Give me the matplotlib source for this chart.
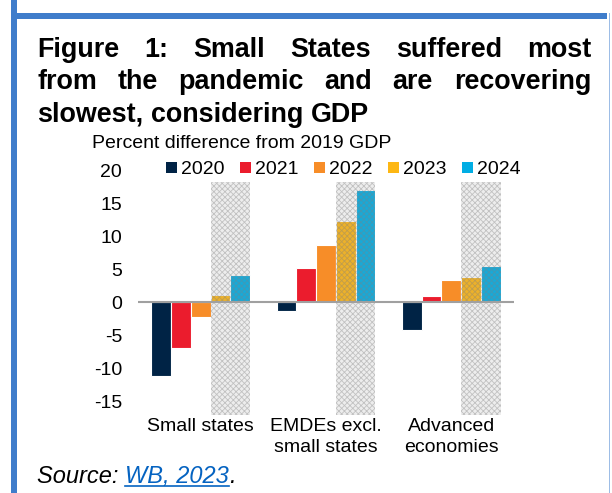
import matplotlib
matplotlib.use("Agg")
import matplotlib.pyplot as plt
import numpy as np
from matplotlib.patches import Rectangle, Patch
from matplotlib.lines import Line2D

plt.rcParams["font.family"] = ["Liberation Sans", "DejaVu Sans"]
plt.rcParams["hatch.linewidth"] = 0.6

# ---- data -------------------------------------------------------------
categories = ["Small states", "EMDEs excl.\nsmall states", "Advanced\neconomies"]
years = ["2020", "2021", "2022", "2023", "2024"]
v2020 = [-11.2, -1.4, -4.3]
v2021 = [-7.0, 5.1, 0.9]
v2022 = [-2.3, 8.7, 3.4]
v2023 = [1.0, 12.3, 3.8]
v2024 = [4.1, 17.0, 5.5]
series = [v2020, v2021, v2022, v2023, v2024]
forecast_years = ["2023", "2024"]
yticks = [20, 15, 10, 5, 0, -5, -10, -15]

colors = ["#002345", "#EB1C2D", "#F78D28", "#FDB714", "#00ADE4"]

title_lines = ["Figure 1: Small States suffered most",
               "from the pandemic and are recovering",
               "slowest, considering GDP"]

# ---- figure -----------------------------------------------------------
W, H = 612, 493
fig = plt.figure(figsize=(W / 100, H / 100), dpi=100)
fig.patch.set_facecolor("white")


def fx(px):
    return px / W


def fy(py):
    return 1 - py / H


# blue frame
frame_col = "#3F7DCB"
fig.patches.append(Rectangle((fx(11), fy(493)), fx(5.5), 1, transform=fig.transFigure,
                             color=frame_col, lw=0))
fig.patches.append(Rectangle((fx(11), fy(18.7)), fx(596), 5.5 / H, transform=fig.transFigure,
                             color=frame_col, lw=0))
fig.patches.append(Rectangle((fx(608.5), fy(493)), fx(1.2), fy(13.2), transform=fig.transFigure,
                             color="#9DBDE6", lw=0))

ax = fig.add_axes([fx(138), fy(414.9), fx(514) - fx(138), (414.9 - 166.7) / H])
ymin, ymax = -17.1, 20.5
shade_top = 18.2

n = len(years)
x = np.arange(len(categories))
pitch = 0.157
for i, (vals, c, yr) in enumerate(zip(series, colors, years)):
    off = (i - (n - 1) / 2) * pitch
    ax.bar(x + off, vals, width=pitch, color=c, edgecolor="white", linewidth=0.8, zorder=2)

# forecast shading over the 2023/2024 bars
i0 = years.index(forecast_years[0])
i1 = years.index(forecast_years[-1])
for xc in x:
    left = xc + (i0 - (n - 1) / 2) * pitch - pitch / 2
    right = xc + (i1 - (n - 1) / 2) * pitch + pitch / 2
    ax.add_patch(Rectangle((left, ymin), right - left, shade_top - ymin,
                           facecolor=(0.6, 0.6, 0.6, 0.17), edgecolor=(0.5, 0.5, 0.5, 0.4),
                           hatch="xxxxxx", linewidth=0, zorder=3))

ax.axhline(0, color="#A0A0A0", lw=1.5, zorder=4)
ax.set_xlim(-0.5, 2.5)
ax.set_ylim(ymin, ymax)
ax.set_yticks(yticks)
ax.set_yticklabels([str(t) for t in yticks], fontsize=14)
ax.set_xticks(x)
ax.set_xticklabels(categories, fontsize=14, linespacing=1.3)
ax.tick_params(axis="both", length=0)
ax.tick_params(axis="y", pad=11.5)
ax.tick_params(axis="x", pad=2.5)
for s in ax.spines.values():
    s.set_visible(False)

handles = [Patch(facecolor=c, edgecolor="none") for c in colors]
fig.legend(handles, years, loc="center left", bbox_to_anchor=(fx(166), fy(170)),
           ncol=5, frameon=False, fontsize=14, handlelength=0.55, handleheight=0.55,
           handletextpad=0.22, columnspacing=0.8, borderpad=0, borderaxespad=0)

fig.text(fx(92), fy(148), "Percent difference from 2019 GDP", fontsize=14, va="baseline")

# ---- justified title --------------------------------------------------
renderer = fig.canvas.get_renderer()
tx0, tx1 = 37, 591
baselines = [56.7, 89.2, 121.7]
tsize = 19.4
for li, (line, by) in enumerate(zip(title_lines, baselines)):
    words = line.split(" ")
    texts = [fig.text(0, fy(by), w, fontsize=tsize, fontweight="bold", va="baseline")
             for w in words]
    widths = [t.get_window_extent(renderer).width for t in texts]
    if li < len(title_lines) - 1:
        gap = (tx1 - tx0 - sum(widths)) / (len(words) - 1)
    else:
        gap = fig.text(0, 0, " ", fontsize=tsize, fontweight="bold").get_window_extent(renderer).width
    cx = tx0
    for t, w in zip(texts, widths):
        t.set_x(fx(cx))
        cx += w + gap

# ---- source line -------------------------------------------------------
ssize = 17
sb = 483
t1 = fig.text(fx(37), fy(sb), "Source: ", fontsize=ssize, style="italic", va="baseline")
w1 = t1.get_window_extent(renderer).width
t2 = fig.text(fx(37 + w1), fy(sb), "WB, 2023", fontsize=ssize, style="italic",
              va="baseline", color="#0563C1")
w2 = t2.get_window_extent(renderer).width
fig.text(fx(37 + w1 + w2), fy(sb), ".", fontsize=ssize, style="italic", va="baseline")
fig.lines.append(Line2D([fx(37 + w1), fx(37 + w1 + w2)], [fy(sb + 3), fy(sb + 3)],
                        transform=fig.transFigure, color="#0563C1", lw=1.2))

fig.savefig("out.png", dpi=100, facecolor="white")
